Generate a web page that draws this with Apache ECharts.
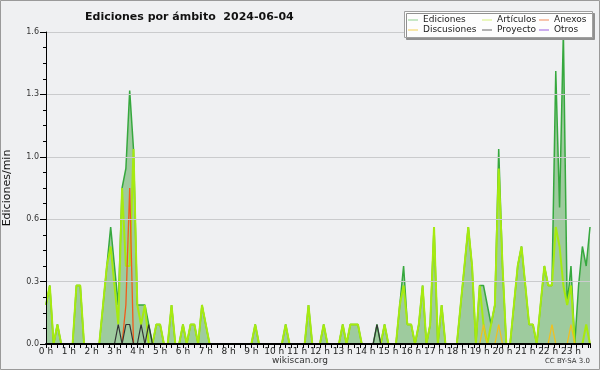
<!DOCTYPE html>
<html><head><meta charset="utf-8">
<script src="https://cdn.jsdelivr.net/npm/echarts@6/dist/echarts.min.js"></script>
<style>html,body{margin:0;padding:0;background:#eff0f2}#c{width:600px;height:370px}</style>
</head><body><div id="c"></div>
<script>
// 10-minute bins, 0h00 .. 23h50 (values in ediciones/min)
const binMinutes = [];
for (let i = 0; i < 144; i++) binMinutes.push(i * 10);

const ediciones = [
 0.2,0.3,0,0.1,0,0,  0,0,0.3,0.3,0,0,  0,0,0,0.2,0.4,0.6,  0.4,0.2,0.8,0.9,1.3,1.0,
 0.2,0.2,0.2,0.1,0,0.1,  0.1,0,0,0.2,0,0,  0.1,0,0.1,0.1,0,0.2,  0.1,0,0,0,0,0,
 0,0,0,0,0,0,  0,0.1,0,0,0,0,  0,0,0,0.1,0,0,  0,0,0,0.2,0,0,
 0,0.1,0,0,0,0,  0.1,0,0.1,0.1,0.1,0,  0,0,0,0.1,0,0.1,  0,0,0,0.2,0.4,0.1,
 0.1,0,0.1,0.3,0,0.1,  0.6,0,0.2,0,0,0,  0,0.2,0.4,0.6,0.4,0,  0.3,0.3,0.2,0.1,0.2,1.0,
 0.4,0,0,0.2,0.4,0.5,  0.3,0.1,0.1,0,0.2,0.4,  0.3,0.3,1.4,0.7,1.6,0.2,  0.4,0,0.3,0.5,0.4,0.6
];
const articulos = [
 0.2,0.3,0,0.1,0,0,  0,0,0.3,0.3,0,0,  0,0,0,0.2,0.4,0.5,  0.3,0.1,0.8,0.4,0.4,1.0,
 0.2,0.1,0.2,0,0,0.1,  0.1,0,0,0.2,0,0,  0.1,0,0.1,0.1,0,0.2,  0.1,0,0,0,0,0,
 0,0,0,0,0,0,  0,0.1,0,0,0,0,  0,0,0,0.1,0,0,  0,0,0,0.2,0,0,
 0,0.1,0,0,0,0,  0.1,0,0.1,0.1,0.1,0,  0,0,0,0,0,0.1,  0,0,0,0.2,0.3,0.1,
 0.1,0,0.1,0.3,0,0.1,  0.6,0,0.2,0,0,0,  0,0.2,0.4,0.6,0.4,0,  0.3,0.1,0,0.1,0.2,0.9,
 0.4,0,0,0.2,0.4,0.5,  0.3,0.1,0.1,0,0.2,0.4,  0.3,0.3,0.6,0.5,0.3,0.2,  0.3,0,0,0,0.1,0
];
const anexos = [
 0,0,0,0,0,0,  0,0,0,0,0,0,  0,0,0,0,0,0,  0,0,0,0.2,0.8,0,
 0,0,0,0,0,0,  0,0,0,0,0,0,  0,0,0,0,0,0,  0,0,0,0,0,0,
 0,0,0,0,0,0,  0,0,0,0,0,0,  0,0,0,0,0,0,  0,0,0,0,0,0,
 0,0,0,0,0,0,  0,0,0,0,0,0,  0,0,0,0,0,0,  0,0,0,0,0,0,
 0,0,0,0,0,0,  0,0,0,0,0,0,  0,0,0,0,0,0,  0,0,0,0,0,0,
 0,0,0,0,0,0,  0,0,0,0,0,0,  0,0,0,0,0,0,  0,0,0,0,0,0
];
const discusiones = [
 0,0,0,0,0,0,  0,0,0,0,0,0,  0,0,0,0,0,0,  0,0,0,0,0,0,
 0,0,0,0,0,0,  0,0,0,0,0,0,  0,0,0,0,0,0,  0,0,0,0,0,0,
 0,0,0,0,0,0,  0,0,0,0,0,0,  0,0,0,0,0,0,  0,0,0,0,0,0,
 0,0,0,0,0,0,  0,0,0,0,0,0,  0,0,0,0,0,0,  0,0,0,0,0,0,
 0,0,0,0,0,0,  0,0,0,0,0,0,  0,0,0,0,0,0,  0,0.1,0,0,0,0.1,
 0,0,0,0,0,0,  0,0,0,0,0,0,  0,0.1,0,0,0,0,  0.1,0,0,0,0,0
];
const proyecto = [
 0,0,0,0,0,0,  0,0,0,0,0,0,  0,0,0,0,0,0,  0,0.1,0,0.1,0.1,0,
 0,0.1,0,0.1,0,0,  0,0,0,0,0,0,  0,0,0,0,0,0,  0,0,0,0,0,0,
 0,0,0,0,0,0,  0,0,0,0,0,0,  0,0,0,0,0,0,  0,0,0,0,0,0,
 0,0,0,0,0,0,  0,0,0,0,0,0,  0,0,0,0.1,0,0,  0,0,0,0,0,0,
 0,0,0,0,0,0,  0,0,0,0,0,0,  0,0,0,0,0,0,  0,0,0,0,0,0,
 0,0,0,0,0,0,  0,0,0,0,0,0,  0,0,0,0,0,0,  0,0,0,0,0,0
];
const otros = [
 0,0,0,0,0,0,  0,0,0,0,0,0,  0,0,0,0,0,0,  0,0,0,0,0,0,
 0,0,0,0,0,0,  0,0,0,0,0,0,  0,0,0,0,0,0,  0,0,0,0,0,0,
 0,0,0,0,0,0,  0,0,0,0,0,0,  0,0,0,0,0,0,  0,0,0,0,0,0,
 0,0,0,0,0,0,  0,0,0,0,0,0,  0,0,0,0,0,0,  0,0,0,0,0,0,
 0,0,0,0,0,0,  0,0,0,0,0,0,  0,0,0,0,0,0,  0,0,0,0,0,0,
 0,0,0,0,0,0,  0,0,0,0,0,0,  0,0,0,0,0,0,  0,0,0,0,0,0
];
const yTicks = [0, 0.32, 0.64, 0.96, 1.28, 1.6];

const FONT = 'DejaVu Sans';
const pair = arr => arr.map((v, i) => [binMinutes[i], v]);
const line = (name, data, color, width, z) => ({
  name, type: 'line', data: pair(data), showSymbol: false, symbol: 'none',
  lineStyle: { color, width }, itemStyle: { color }, z, animation: false
});

const chart = echarts.init(document.getElementById('c'), null, { renderer: 'canvas' });
chart.setOption({
  backgroundColor: '#eff0f2',
  animation: false,
  title: {
    text: 'Ediciones por ámbito  2024-06-04', left: 80, top: 7,
    textStyle: { fontFamily: FONT, fontSize: 11, fontWeight: 'bold', color: '#111' }
  },
  grid: { left: 46, right: 10, top: 32, bottom: 26, outerBoundsMode: 'none', containLabel: false },
  xAxis: {
    type: 'value', min: 0, max: binMinutes[binMinutes.length - 1], interval: 60, z: 10,
    axisLine: { lineStyle: { color: '#000', width: 2 } },
    axisTick: { show: true, length: 4, lineStyle: { color: '#000' } },
    minorTick: { show: true, splitNumber: 4, length: 4, lineStyle: { color: '#000' } },
    splitLine: { show: false },
    axisLabel: {
      fontFamily: FONT, fontSize: 9, color: '#222', margin: 3,
      formatter: v => (v % 60 === 0 ? (v / 60) + ' h' : '')
    }
  },
  yAxis: {
    type: 'value', min: yTicks[0], max: yTicks[yTicks.length - 1], interval: yTicks[1], z: 10,
    name: 'Ediciones/min', nameLocation: 'middle', nameGap: 33,
    nameTextStyle: { fontFamily: FONT, fontSize: 11, color: '#111' },
    axisLine: { show: true, lineStyle: { color: '#000', width: 1 } },
    axisTick: { show: true, length: 6, lineStyle: { color: '#000' } },
    minorTick: { show: true, splitNumber: 4, length: 3, lineStyle: { color: '#000' } },
    splitLine: { show: true, lineStyle: { color: '#cacbcd', width: 1 } },
    axisLabel: { fontFamily: FONT, fontSize: 8, color: '#333', margin: 7,
      formatter: v => v.toFixed(1) }
  },
  legend: [
    { data: [{ name: 'Ediciones', itemStyle: { color: '#8fd08f' } }, { name: 'Discusiones', itemStyle: { color: '#f2d055' } }],
      left: 408, top: 15 },
    { data: [{ name: 'Artículos', itemStyle: { color: '#d4f07a' } }, { name: 'Proyecto', itemStyle: { color: '#666' } }],
      left: 482, top: 15 },
    { data: [{ name: 'Anexos', itemStyle: { color: '#f08a5a' } }, { name: 'Otros', itemStyle: { color: '#9a5ce0' } }],
      left: 539, top: 15 }
  ].map(l => Object.assign(l, {
    orient: 'vertical', icon: 'rect', itemWidth: 10, itemHeight: 1, itemGap: 0, z: 20,
    selectedMode: false, padding: 0,
    textStyle: { fontFamily: FONT, fontSize: 9, color: '#222', lineHeight: 10, padding: [0, 0, 0, 0] }
  })),
  graphic: [
    { type: 'rect', z: 15, shape: { x: 404.5, y: 11.5, width: 188, height: 26 },
      style: { fill: '#fdfdfd', stroke: '#a0a0a0', lineWidth: 1, shadowColor: '#909090', shadowOffsetX: 2, shadowOffsetY: 2, shadowBlur: 0 } },
    { type: 'rect', z: 30, shape: { x: 0.5, y: 0.5, width: 599, height: 369 },
      style: { fill: 'none', stroke: '#9a9a9a', lineWidth: 1 } },
    { type: 'text', z: 30, left: 'center', top: 356,
      style: { text: 'wikiscan.org', font: '9px "DejaVu Sans"', fill: '#333' } },
    { type: 'text', z: 30, right: 10, top: 358,
      style: { text: 'CC BY-SA 3.0', font: '7px "DejaVu Sans"', fill: '#333' } }
  ],
  series: [
    Object.assign(line('Ediciones', ediciones, '#36a83e', 1.5, 2),
      { areaStyle: { color: '#9ecb9e', opacity: 1 } }),
    line('Artículos', articulos, '#a6ea10', 2, 3),
    line('Anexos', anexos, '#f25a1a', 1.3, 4),
    line('Discusiones', discusiones, '#f0c020', 1.3, 4),
    line('Proyecto', proyecto, '#333333', 1.2, 4),
    line('Otros', otros, '#8a3fe0', 1.2, 1)
  ]
});
</script></body></html>
